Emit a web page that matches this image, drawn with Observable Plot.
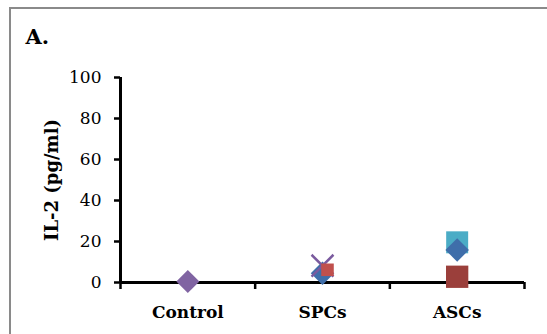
<!DOCTYPE html>
<html>
<head>
<meta charset="utf-8">
<script src="https://cdn.jsdelivr.net/npm/d3@7"></script>
<script src="https://cdn.jsdelivr.net/npm/@observablehq/plot@0.6"></script>
<style>
  html, body { margin: 0; padding: 0; background: #fff; }
  #wrap { position: relative; width: 547px; height: 334px; overflow: hidden; }
  #frame { position: absolute; left: 9px; top: 7px; right: -4px; bottom: -4px;
           border-top: 2px solid #8a8a8a; border-left: 2px solid #8a8a8a; }
  #chart { position: absolute; left: 0; top: 0; }
</style>
</head>
<body>
<div id="wrap"><div id="frame"></div><div id="chart"></div></div>
<script>
const panelLabel = "A.";
const yLabel = "IL-2 (pg/ml)";
const categories = ["Control", "SPCs", "ASCs"];
const yTicks = [0, 20, 40, 60, 80, 100];

// series values per category (null = no marker)
const purpleDiamond = [0.5, null, null];
const aquaSquare = [null, null, 19.6];
const blueDiamond = [null, 4.5, 15.9];
const purpleX = [null, 8.2, null];
const redSquare = [null, 6.2, 2.8];

const idx = categories.map((_, i) => i);
const xDomain = [-0.5, categories.length - 0.5];
const boundaries = d3.range(categories.length + 1).map(i => i - 0.5);

function pts(arr) {
  return arr.map((v, i) => ({i, v})).filter(d => d.v != null);
}

const chart = Plot.plot({
  width: 547,
  height: 334,
  marginLeft: 120,
  marginRight: 23,
  marginTop: 77,
  marginBottom: 52,
  style: {fontFamily: "DejaVu Serif", fontSize: "17px", color: "#000", background: "transparent"},
  x: {type: "linear", domain: xDomain, axis: null},
  y: {domain: [0, 100], axis: null},
  marks: [
    // y axis ticks and labels
    Plot.axisY({ticks: yTicks, tickSize: 6, tickPadding: 13, strokeWidth: 2.5, label: null, fontSize: 17}),
    // x axis boundary ticks
    Plot.axisX({ticks: boundaries, tickSize: 7, strokeWidth: 2.5, tickFormat: () => "", label: null}),
    // category labels
    Plot.axisX({ticks: idx, tickSize: 0, tickPadding: 23, tickFormat: i => categories[i],
                fontWeight: "bold", fontSize: 17, label: null}),
    // axis lines
    Plot.ruleX([xDomain[0]], {strokeWidth: 3, stroke: "#000"}),
    Plot.ruleY([0], {strokeWidth: 3, stroke: "#000"}),
    // markers
    Plot.dot(pts(purpleDiamond), {x: "i", y: "v", symbol: "diamond2", r: 10.4, fill: "#8064A2", stroke: "none"}),
    Plot.dot(pts(aquaSquare), {x: "i", y: "v", symbol: "square2", r: 14, fill: "#4BACC6", stroke: "none"}),
    Plot.dot(pts(blueDiamond), {x: "i", y: "v", symbol: "diamond2", r: 10.6, fill: "#3F6EAA", stroke: "none"}),
    Plot.dot(pts(purpleX), {x: "i", y: "v", symbol: "times", r: 10, stroke: "#7A5A9E", strokeWidth: 2.5, fill: "none"}),
    Plot.dot(pts(redSquare).filter(d => d.i === 1), {x: "i", y: "v", symbol: "square2", r: 8, dx: 5, fill: "#C0504D", stroke: "none"}),
    Plot.dot(pts(redSquare).filter(d => d.i !== 1), {x: "i", y: "v", symbol: "square2", r: 14.2, fill: "#9B3F3B", stroke: "none"}),
    // y label
    Plot.text([yLabel], {frameAnchor: "left", dx: -63, rotate: -90, textAnchor: "middle", lineAnchor: "bottom",
                         fontWeight: "bold", fontSize: 18}),
    // panel label
    Plot.text([panelLabel], {frameAnchor: "top-left", dx: -95, dy: -34, textAnchor: "start", lineAnchor: "bottom",
                             fontWeight: "bold", fontSize: 21})
  ]
});
document.getElementById("chart").appendChild(chart);
</script>
</body>
</html>
